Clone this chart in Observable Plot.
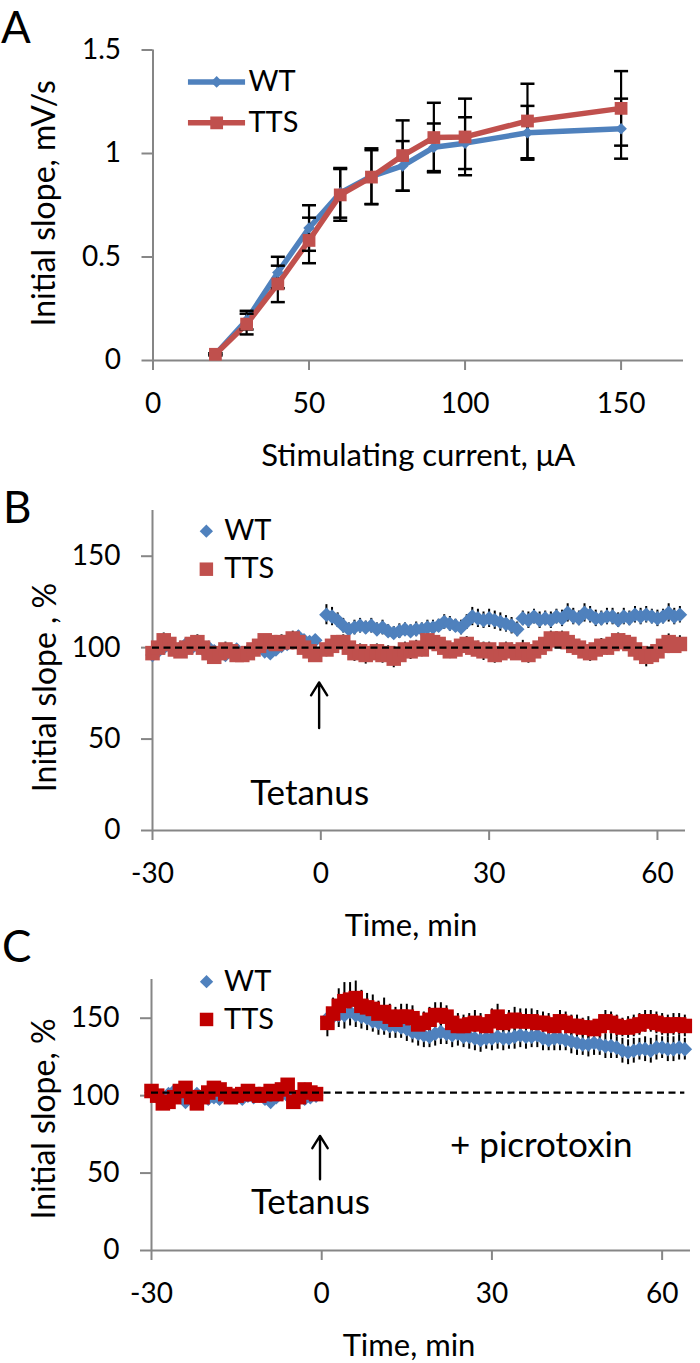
<!DOCTYPE html>
<html>
<head>
<meta charset="utf-8">
<script src="https://cdn.jsdelivr.net/npm/d3@7"></script>
<script src="https://cdn.jsdelivr.net/npm/@observablehq/plot@0.6"></script>
<style>
  html, body { margin: 0; padding: 0; background: #fff; }
  #wrap { position: relative; width: 700px; height: 1363px; font-family: Lato, sans-serif; background: #fff; overflow: hidden; }
  .panel { position: absolute; left: 0; z-index: 1; }
  .panel svg { overflow: visible; }
  .letter { position: absolute; font-size: 44px; line-height: 53px; color: #000; z-index: 5; }
</style>
</head>
<body>
<div id="wrap">
  <div class="letter" style="left:1px; top:0px;">A</div>
  <div class="letter" style="left:3px; top:480px;">B</div>
  <div class="letter" style="left:2px; top:919px;">C</div>
</div>
<script>
// ---------- Panel A data ----------
const aCurrent = [20, 30, 40, 50, 60, 70, 80, 90, 100, 120, 150];
const aWT      = [0.03, 0.195, 0.425, 0.64, 0.81, 0.89, 0.94, 1.03, 1.05, 1.10, 1.12];
const aWTerr   = [0.005, 0.045, 0.076, 0.11, 0.12, 0.135, 0.12, 0.115, 0.125, 0.13, 0.145];
const aTTS     = [0.03, 0.176, 0.37, 0.58, 0.80, 0.886, 0.99, 1.077, 1.08, 1.157, 1.218];
const aTTSerr  = [0.005, 0.05, 0.088, 0.11, 0.125, 0.13, 0.17, 0.168, 0.185, 0.18, 0.18];
const aXTicks = [0, 50, 100, 150];
const aYTicks = [0, 0.5, 1, 1.5];
const aYTickLabels = ["0", "0.5", "1", "1.5"];
const seriesNames = ["WT", "TTS"];

// ---------- Panels B and C: time grid (min) ----------
const preTimes  = d3.range(-30, 0);   // -30 .. -1
const postTimes = d3.range(1, 65);    // 1 .. 64
const tXTicks = [-30, 0, 30, 60];
const tYTicks = [0, 50, 100, 150];

// ---------- Panel B data ----------
const bWTpre = [96,98,100,101,99,100,102,100,101,99, 100,98,97,96,98,99,97,98,99,100, 98,97,99,101,102,103,106,104,103,104];
const bWTpost = [118,117,115,112,110,111,112,111,112,110, 111,109,108,109,110,109,110,110,111,111,
  112,114,113,112,111,114,117,116,115,116, 115,114,113,112,110,116,115,117,115,116,
  115,117,116,119,117,116,119,118,116,116, 117,117,115,117,116,118,117,118,117,116,
  117,119,117,118];
const bTTSpre = [97,100,104,102,99,98,100,102,103,100, 97,95,97,99,98,96,96,97,99,101, 104,103,102,103,103,105,103,100,98,96];
const bTTSpost = [99,101,103,103,100,97,98,96,97,98, 96,97,94,96,99,98,100,99,104,103,
  102,100,98,99,101,102,100,99,98,99, 96,97,99,98,97,99,96,98,100,102,
  105,104,105,103,101,100,98,97,99,101, 100,102,104,103,102,99,97,95,96,98,
  101,103,101,102];
const bWTpreSem = [3,3,2,3,3,2,3,3,2,3, 3,3,2,3,3,2,3,3,3,2, 3,3,2,3,3,3,3,2,3,3];
const bWTpostSem = [5.5,5,4,4,3.5,4,4,3.5,4,3.5, 4,3.5,3.5,4,3.5,3.5,4,3.5,4,4,
  3.5,4,4,3.5,4,4,5,5,4.5,5, 5,5,4.5,4.5,4,4,4.5,4,4.5,4,
  4.5,4,4.5,5,4.5,4,5,4.5,4.5,4, 4.5,4.5,4,4.5,4,4.5,4.5,4.5,4,4.5,
  4,5,4.5,4.5];
const bTTSpreSem = [4,3,4,3,4,3,4,3,4,3, 4,4,3,4,3,4,4,3,4,3, 3,4,3,4,3,4,3,4,3,4];
const bTTSpostSem = [4,4,3.5,4,4,4.5,4,5,4,4, 4.5,4,5,4,4,4.5,4,4,4.5,4,
  4,4.5,4,4,4.5,4,4,4.5,5,4, 4.5,5,4,4.5,4,5,4.5,4,4,4.5,
  4,4.5,4,5,4,4.5,4,4.5,5,4, 4,4.5,4,4.5,4,4.5,5,5.5,4.5,4,
  4,4.5,4,4.5];

// ---------- Panel C data ----------
const cWTpre = [102,99,97,101,103,100,96,99,101,100, 98,99,98,101,100,99,98,100,99,100, 98,96,99,101,100,98,99,98,99,100];
const cWTpost = [150,151,152,152,154,152,151,150,148,147, 146,145,145,144,143,141,140,139,138,140,
  141,140,139,140,138,138,137,136,137,137, 138,137,137,138,139,138,138,139,137,136,
  137,137,136,135,134,133,133,134,133,132, 132,131,129,128,129,130,130,129,131,131,
  130,130,131,130];
const cTTSpre = [103,100,95,96,99,103,105,99,95,99, 102,105,104,101,99,100,101,103,101,100, 101,103,101,104,107,96,99,104,102,101];
const cTTSpost = [147,153,158,161,162,163,158,157,156,153, 154,151,149,151,151,150,146,147,149,152,
  152,151,147,145,145,146,147,146,145,148, 151,147,148,149,148,148,148,147,147,146,
  145,148,147,145,145,144,144,143,145,148, 147,145,144,144,145,146,148,148,147,146,
  145,146,146,145];
const cWTpreSem = [3,4,3,3,4,3,4,3,3,4, 3,3,4,3,3,4,3,3,4,3, 3,4,3,3,4,3,3,4,3,3];
const cWTpostSem = [7,8,8,9,9,8,8,8,7,8, 7,8,8,7,8,7,8,8,7,8, 8,7,8,8,7,8,8,8,7,8,
  8,8,7,8,8,8,7,8,8,7, 8,8,7,8,8,7,8,8,7,8, 8,7,8,8,8,7,8,8,8,7, 8,8,8,7];
const cTTSpreSem = [4,3,4,4,3,4,4,3,4,3, 4,4,3,4,3,4,4,3,4,4, 3,4,3,4,4,3,4,4,3,4];
const cTTSpostSem = [9,10,11,12,11,11,10,9,9,8, 9,8,8,8,8,8,7,7,8,8, 8,7,7,8,7,7,8,7,7,8,
  8,7,7,8,8,8,8,8,7,7, 7,7,7,7,7,6,7,6,7,7, 7,7,6,7,7,7,7,7,7,7, 7,7,7,7];

// ---------- annotation texts ----------
const tetanusLabel = "Tetanus";
const picroLabel = "+ picrotoxin";
const baselineB = 100, baselineC = 102;

// ---------- styles & layout ----------
const blue = "#4F81BD", redB = "#C0504D", redC = "#C00000", axisGray = "#868686";
const font = "Lato, sans-serif";
const layoutA = { legendLine: [11.2, 29.5], legendMark: 20.4, legendText: 30.6, legendY: [1.346, 1.148] };
const layoutB = { legendMark: -20.4, legendText: -17.2, legendY: [163.7, 142.9], arrowX: -0.3, arrowY: [56, 81],
  tetanus: [-2, 20.2], dash: [-30, 61] };
const layoutC = { legendMark: -20.3, legendText: -17.2, legendY: [173.6, 149.2], arrowX: -0.3, arrowY: [46, 74],
  tetanus: [-2, 31], picro: [38.7, 67.6], dash: [-30, 64] };

const capSymbol = { draw(ctx, size) { const w = Math.sqrt(size / Math.PI); ctx.moveTo(-w, 0); ctx.lineTo(w, 0); } };

function rows(times, vals, sems) {
  return times.map((t, i) => ({ t, v: vals[i], lo: vals[i] - sems[i], hi: vals[i] + sems[i] }));
}

function commonAxes(xDomainMin, yDomainMin, xTicks, yTicks, yFmt) {
  return [
    Plot.ruleX([xDomainMin], { stroke: axisGray, strokeWidth: 2 }),
    Plot.ruleY([yDomainMin], { stroke: axisGray, strokeWidth: 2 }),
    Plot.axisY(yTicks, { tickSize: 11, tickPadding: 21, stroke: axisGray, strokeWidth: 2, fill: "black",
      fontSize: 28, tickFormat: yFmt, label: null }),
    Plot.axisX(xTicks, { tickSize: 10, tickPadding: 23, stroke: axisGray, strokeWidth: 2, fill: "black",
      fontSize: 28, tickFormat: d => String(d), label: null })
  ];
}

const wrap = document.getElementById("wrap");
function place(svg, top) {
  const d = document.createElement("div");
  d.className = "panel";
  d.style.top = top + "px";
  d.appendChild(svg);
  wrap.appendChild(d);
}

// ---------- Panel A ----------
const aRows = aCurrent.map((x, i) => ({ x, wt: aWT[i], wtE: aWTerr[i], tts: aTTS[i], ttsE: aTTSerr[i] }));
const aLegend = seriesNames.map((name, i) => ({ name, y: layoutA.legendY[i] }));

const plotA = Plot.plot({
  width: 700, height: 465,
  marginTop: 49.5, marginBottom: 105, marginLeft: 152.5, marginRight: 17,
  x: { domain: [0, 170] }, y: { domain: [0, 1.5] },
  style: { fontFamily: font, background: "transparent", color: "black", overflow: "visible" },
  marks: [
    ...commonAxes(0, 0, aXTicks, aYTicks, d => aYTickLabels[aYTicks.indexOf(d)]),
    Plot.line(aRows, { x: "x", y: "wt", stroke: blue, strokeWidth: 5.5, strokeLinejoin: "round", strokeLinecap: "round" }),
    Plot.line(aRows, { x: "x", y: "tts", stroke: redB, strokeWidth: 5.5, strokeLinejoin: "round", strokeLinecap: "round" }),
    Plot.ruleX(aRows, { x: "x", y1: d => d.wt - d.wtE, y2: d => d.wt + d.wtE, stroke: "black", strokeWidth: 2.2 }),
    Plot.ruleX(aRows, { x: "x", y1: d => d.tts - d.ttsE, y2: d => d.tts + d.ttsE, stroke: "black", strokeWidth: 2.2 }),
    Plot.dot(aRows, { x: "x", y: d => d.wt - d.wtE, symbol: capSymbol, r: 7, stroke: "black", strokeWidth: 2.5 }),
    Plot.dot(aRows, { x: "x", y: d => d.wt + d.wtE, symbol: capSymbol, r: 7, stroke: "black", strokeWidth: 2.5 }),
    Plot.dot(aRows, { x: "x", y: d => d.tts - d.ttsE, symbol: capSymbol, r: 7, stroke: "black", strokeWidth: 2.5 }),
    Plot.dot(aRows, { x: "x", y: d => d.tts + d.ttsE, symbol: capSymbol, r: 7, stroke: "black", strokeWidth: 2.5 }),
    Plot.dot(aRows, { x: "x", y: "wt", symbol: "diamond2", r: 5.2, fill: blue }),
    Plot.dot(aRows, { x: "x", y: "tts", symbol: "square", r: 7.2, fill: redB }),
    // legend
    Plot.link(aLegend, { x1: layoutA.legendLine[0], x2: layoutA.legendLine[1], y1: "y", y2: "y",
      stroke: (d, i) => i === 0 ? blue : redB, strokeWidth: 5.5 }),
    Plot.dot([aLegend[0]], { x: layoutA.legendMark, y: "y", symbol: "diamond2", r: 5.2, fill: blue }),
    Plot.dot([aLegend[1]], { x: layoutA.legendMark, y: "y", symbol: "square", r: 7.2, fill: redB }),
    Plot.text(aLegend, { x: layoutA.legendText, y: "y", text: "name", textAnchor: "start", fontSize: 29, fill: "black" }),
    // axis titles
    Plot.text(["Initial slope, mV/s"], { text: d => d, frameAnchor: "left", rotate: -90, dx: -108, dy: -2,
      fontSize: 32, textAnchor: "middle", fill: "black" }),
    Plot.text(["Stimulating current, \u03BCA"], { text: d => d, frameAnchor: "bottom", dy: 83, lineAnchor: "top",
      fontSize: 31, textAnchor: "middle", fill: "black" })
  ]
});
place(plotA, 0);

// ---------- Panels B and C ----------
function timePanel(opts) {
  const { height, top, margins, wtPre, wtPost, wtPreSem, wtPostSem, ttsPre, ttsPost, ttsPreSem, ttsPostSem,
    red, layout, baseline, yTitle, yTitleDy, xTitleDx, extraText } = opts;
  const wt = rows(preTimes, wtPre, wtPreSem).concat(rows(postTimes, wtPost, wtPostSem));
  const tts = rows(preTimes, ttsPre, ttsPreSem).concat(rows(postTimes, ttsPost, ttsPostSem));
  const legend = seriesNames.map((name, i) => ({ name, y: layout.legendY[i] }));
  const notes = [{ text: tetanusLabel, x: layout.tetanus[0], y: layout.tetanus[1] }];
  if (extraText) notes.push({ text: extraText, x: layout.picro[0], y: layout.picro[1] });
  const svg = Plot.plot({
    width: 700, height,
    marginTop: margins[0], marginRight: margins[1], marginBottom: margins[2], marginLeft: margins[3],
    x: { domain: [-30, 65] }, y: { domain: [0, 175] },
    style: { fontFamily: font, background: "transparent", color: "black", overflow: "visible" },
    marks: [
      ...commonAxes(-30, 0, tXTicks, tYTicks, d => String(d)),
      Plot.ruleX(wt, { x: "t", y1: "lo", y2: "hi", stroke: "black", strokeWidth: 2 }),
      Plot.ruleX(tts, { x: "t", y1: "lo", y2: "hi", stroke: "black", strokeWidth: 2 }),
      Plot.dot(wt, { x: "t", y: "v", symbol: "diamond2", r: 6.6, fill: blue }),
      Plot.dot(tts, { x: "t", y: "v", symbol: "square", r: 8.2, fill: red }),
      Plot.ruleY([baseline], { x1: layout.dash[0], x2: layout.dash[1], stroke: "black", strokeWidth: 2.2, strokeDasharray: "7,4.5" }),
      Plot.arrow([baseline], { x1: layout.arrowX, x2: layout.arrowX, y1: layout.arrowY[0], y2: layout.arrowY[1],
        stroke: "black", strokeWidth: 2.4, headLength: 20, headAngle: 64 }),
      Plot.text(notes, { x: "x", y: "y", text: "text", fontSize: 35, textAnchor: "middle", fill: "black" }),
      // legend
      Plot.dot([legend[0]], { x: layout.legendMark, y: "y", symbol: "diamond2", r: 6, fill: blue }),
      Plot.dot([legend[1]], { x: layout.legendMark, y: "y", symbol: "square", r: 7.6, fill: red }),
      Plot.text(legend, { x: layout.legendText, y: "y", text: "name", textAnchor: "start", fontSize: 29, fill: "black" }),
      // axis titles
      Plot.text([yTitle], { text: d => d, frameAnchor: "left", rotate: -90, dx: -107, dy: yTitleDy,
        fontSize: 32, textAnchor: "middle", fill: "black" }),
      Plot.text(["Time, min"], { text: d => d, frameAnchor: "bottom", dx: xTitleDx, dy: 83, lineAnchor: "top",
        fontSize: 31, textAnchor: "middle", fill: "black" })
    ]
  });
  place(svg, top);
}

timePanel({
  height: 475, top: 465, margins: [45, 15, 110, 152],
  wtPre: bWTpre, wtPost: bWTpost, wtPreSem: bWTpreSem, wtPostSem: bWTpostSem,
  ttsPre: bTTSpre, ttsPost: bTTSpost, ttsPreSem: bTTSpreSem, ttsPostSem: bTTSpostSem,
  red: redB, layout: layoutB, baseline: baselineB, yTitle: "Initial slope , %", yTitleDy: 17, xTitleDx: -8
});

timePanel({
  height: 423, top: 940, margins: [39, 10, 113, 151],
  wtPre: cWTpre, wtPost: cWTpost, wtPreSem: cWTpreSem, wtPostSem: cWTpostSem,
  ttsPre: cTTSpre, ttsPost: cTTSpost, ttsPreSem: cTTSpreSem, ttsPostSem: cTTSpostSem,
  red: redC, layout: layoutC, baseline: baselineC, yTitle: "Initial slope, %", yTitleDy: 4, xTitleDx: -12,
  extraText: picroLabel
});
</script>
</body>
</html>
